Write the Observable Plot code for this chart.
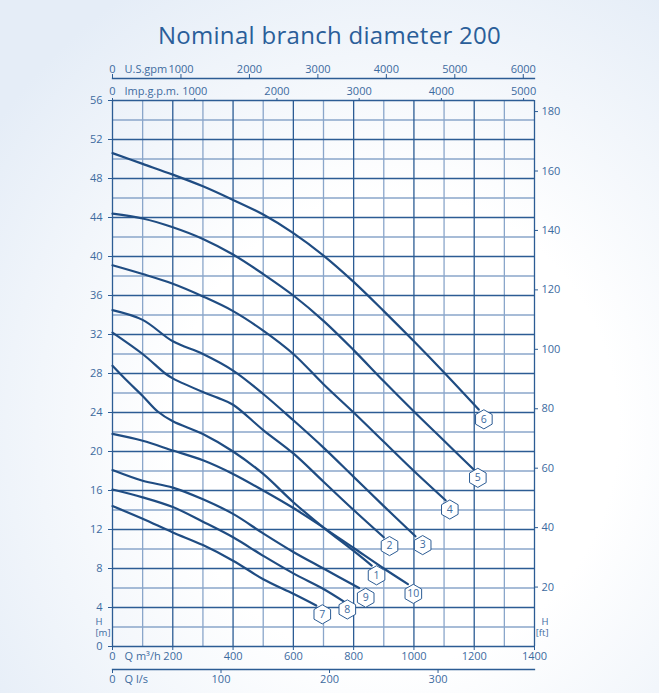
<!DOCTYPE html>
<html><head><meta charset="utf-8">
<script src="https://cdn.jsdelivr.net/npm/d3@7"></script>
<script src="https://cdn.jsdelivr.net/npm/@observablehq/plot@0.6"></script>
<style>
html,body{margin:0;padding:0;}
body{width:659px;height:693px;overflow:hidden;background:radial-gradient(ellipse 75% 75% at 60% 62%, #ffffff 45%, #e5edf7 100%);font-family:"Open Sans",sans-serif;}
#title{height:50px;box-sizing:border-box;padding-top:20px;text-align:center;font-size:24px;line-height:30px;letter-spacing:0.3px;color:#2a5e99;}
</style></head><body>
<div id="title">Nominal branch diameter 200</div>
<div id="chart"></div>
<script>
// ---- data (Q in m³/h, H in m) ----
const curve1 = [[0,28.8],[50,27.2],[100,25.7],[150,24.1],[200,23.1],[300,21.8],[400,20.0],[500,17.7],[600,14.8],[700,12.2],[800,9.8],[860,8.3]];
const curve2 = [[0,32.2],[100,30.0],[175,28.0],[200,27.5],[300,26.1],[350,25.5],[400,24.8],[500,22.2],[600,19.8],[700,16.9],[800,14.0],[900,11.2]];
const curve3 = [[0,34.5],[100,33.5],[200,31.3],[300,30.0],[400,28.3],[500,25.9],[600,23.2],[700,20.4],[800,17.4],[900,14.4],[1005,11.3]];
const curve4 = [[0,39.1],[100,38.2],[200,37.2],[300,35.9],[400,34.4],[500,32.4],[600,30.0],[700,26.9],[800,24.0],[900,21.0],[1000,18.0],[1105,15.0]];
const curve5 = [[0,44.4],[100,43.9],[200,43.0],[300,41.8],[400,40.2],[500,38.2],[600,36.0],[700,33.4],[800,30.4],[900,27.2],[1000,24.1],[1100,21.1],[1200,18.1]];
const curve6 = [[0,50.6],[100,49.5],[200,48.4],[300,47.2],[400,45.8],[500,44.3],[600,42.4],[700,40.1],[800,37.4],[900,34.4],[1000,31.3],[1100,28.1],[1215,24.3]];
const curve7 = [[0,14.4],[100,13.1],[200,11.7],[300,10.4],[400,8.8],[500,6.9],[600,5.4],[676,4.2]];
const curve8 = [[0,16.1],[100,15.3],[200,14.3],[300,12.8],[400,11.2],[500,9.3],[600,7.5],[700,5.9],[768,4.6]];
const curve9 = [[0,18.1],[100,17.0],[200,16.3],[300,15.1],[400,13.6],[500,11.6],[600,9.7],[700,8.0],[818,6.0]];
const curve10 = [[0,21.8],[100,21.1],[200,20.1],[300,19.1],[400,17.7],[500,16.0],[600,14.2],[700,12.2],[800,10.1],[900,8.0],[980,6.4]];

const labelIds = [1,2,3,4,5,6,7,8,9,10];
const labelQ = [876,919,1029,1119,1212,1232,696,779,840,998];
const labelH = [7.3,10.3,10.4,14.05,17.3,23.3,3.3,3.8,5.0,5.4];

const hTicksM = [0,4,8,12,16,20,24,28,32,36,40,44,48,52,56];
const hTicksFt = [20,40,60,80,100,120,140,160,180];
const qTicks = [0,200,400,600,800,1000,1200,1400];
const usGpmTicks = [0,1000,2000,3000,4000,5000,6000];
const impGpmTicks = [0,1000,2000,3000,4000,5000];
const lsTicks = [0,100,200,300];
const gridH = d3.range(0,57,2);
const gridQ = d3.range(0,1401,100);

// unit conversions to m³/h and m
const US = 0.2271247, IMP = 0.2727655, LS = 3.6, FT = 0.3048;

// ---- layout / style ----
const W = 659, H = 643, mt = 50, mb = 47, ml = 112, mr = 125;
const FH = H - mt - mb;
const dark = "#2c5c94", light = "#8aa6ca", ink = "#3d6b9f", lineC = "#1f4c82";

const curves = [curve1,curve2,curve3,curve4,curve5,curve6,curve7,curve8,curve9,curve10];
const lineData = curves.flatMap((c,i) => c.map(([q,h]) => ({id: i+1, q, h})));
const labels = labelIds.map((id,i) => ({id, q: labelQ[i], h: labelH[i]}));

const plot = Plot.plot({
  width: W, height: H,
  marginTop: mt, marginBottom: mb, marginLeft: ml, marginRight: mr,
  x: {domain: [0,1400], axis: null},
  y: {domain: [0,56], axis: null},
  style: {fontFamily: "'Open Sans', sans-serif", fontSize: "11px", color: ink, background: "transparent", overflow: "visible"},
  marks: [
    Plot.ruleY(gridH.filter(v => v % 4 !== 0), {stroke: light, strokeWidth: 1.4}),
    Plot.ruleX(gridQ.filter(v => v % 200 !== 0), {stroke: light, strokeWidth: 1.3}),
    Plot.ruleY(gridH.filter(v => v % 4 === 0), {stroke: dark, strokeWidth: 1.3}),
    Plot.ruleX(gridQ.filter(v => v % 200 === 0), {stroke: dark, strokeWidth: 1.3}),
    Plot.line(lineData, {x: "q", y: "h", z: "id", stroke: lineC, strokeWidth: 2.2, curve: "catmull-rom"}),
    Plot.dot(labels, {x: "q", y: "h", symbol: "hexagon", r: 8.3, fill: "white", stroke: dark, strokeWidth: 1}),
    Plot.text(labels, {x: "q", y: "h", text: "id", fill: ink, fontSize: 10.5}),
    // left axis (m)
    Plot.axisY({ticks: hTicksM, tickFormat: d => String(d), anchor: "left", tickSize: 4, tickPadding: 6, stroke: dark, fill: ink, label: null}),
    Plot.text(["H"], {frameAnchor: "bottom-left", dx: -17, dy: -25, lineAnchor: "middle", fill: ink, fontSize: 9.5}),
    Plot.text(["[m]"], {frameAnchor: "bottom-left", dx: -17, dy: -14, lineAnchor: "middle", fill: ink, fontSize: 9.5}),
    // right axis (ft)
    Plot.axisY({ticks: hTicksFt.map(f => f * FT), tickFormat: d => String(Math.round(d / FT)), anchor: "right", tickSize: 3, tickPadding: 4, stroke: dark, fill: ink, label: null}),
    Plot.text(["H"], {frameAnchor: "bottom-right", dx: 14, dy: -25, lineAnchor: "middle", fill: ink, fontSize: 9.5}),
    Plot.text(["[ft]"], {frameAnchor: "bottom-right", dx: 14, dy: -14, lineAnchor: "middle", fill: ink, fontSize: 9.5}),
    // bottom axis (m³/h)
    Plot.axisX({ticks: qTicks, tickFormat: d => String(d), anchor: "bottom", tickSize: 4, tickPadding: 2, stroke: dark, fill: ink, label: null}),
    Plot.text(["Q m³/h"], {x: () => 0, frameAnchor: "bottom", dx: 12, dy: 6, lineAnchor: "top", textAnchor: "start", fill: ink}),
    // bottom axis 2 (l/s)
    Plot.frame({anchor: "bottom", dy: 23, stroke: dark, strokeWidth: 1.3}),
    Plot.tickX(lsTicks, {x: d => d * LS, insetTop: FH - 4, dy: 27, stroke: dark}),
    Plot.text(lsTicks, {x: d => d * LS, frameAnchor: "bottom", dy: 29, lineAnchor: "top", text: d => String(d), fill: ink}),
    Plot.text(["Q l/s"], {x: () => 0, frameAnchor: "bottom", dx: 12, dy: 29, lineAnchor: "top", textAnchor: "start", fill: ink}),
    // top axis (Imp. gpm)
    Plot.axisX({ticks: impGpmTicks.map(g => g * IMP), tickFormat: d => String(Math.round(d / IMP)), anchor: "top", tickSize: 3, tickPadding: 3, stroke: dark, fill: ink, label: null}),
    Plot.text(["Imp.g.p.m."], {x: () => 0, frameAnchor: "top", dx: 12, dy: -6, lineAnchor: "bottom", textAnchor: "start", fill: ink}),
    // top axis 2 (U.S. gpm)
    Plot.frame({anchor: "top", dy: -22, stroke: dark, strokeWidth: 1.3}),
    Plot.tickX(usGpmTicks, {x: d => d * US, insetBottom: FH - 4, dy: -26, stroke: dark}),
    Plot.text(usGpmTicks, {x: d => d * US, frameAnchor: "top", dy: -28, lineAnchor: "bottom", text: d => String(d), fill: ink}),
    Plot.text(["U.S.gpm"], {x: () => 0, frameAnchor: "top", dx: 12, dy: -28, lineAnchor: "bottom", textAnchor: "start", fill: ink})
  ]
});
document.getElementById("chart").appendChild(plot);
</script>
</body></html>
